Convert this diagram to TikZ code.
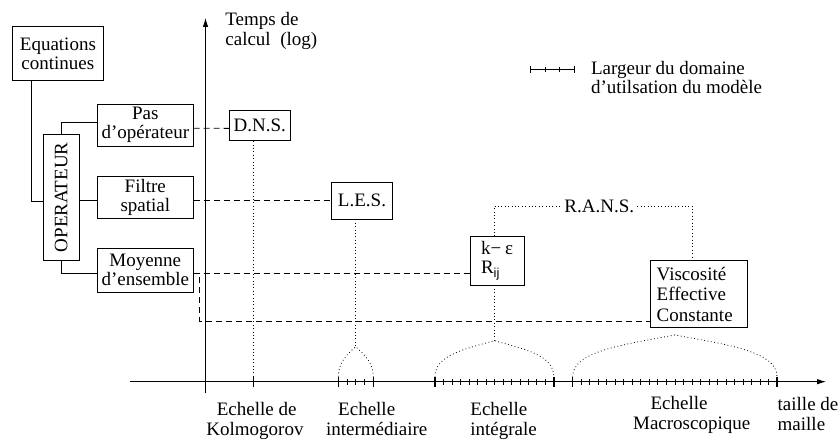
\documentclass[tikz,border=0pt]{standalone}
\usepackage{fontspec}
\setmainfont{Liberation Serif}
\setsansfont{Liberation Sans}
\usetikzlibrary{arrows.meta,calc}
\begin{document}
\begin{tikzpicture}[x=1bp,y=-1bp,
  font=\fontsize{19bp}{19bp}\selectfont,
  line width=0.8bp,
  box/.style={draw, inner sep=0pt, align=center},
  dsh/.style={dash pattern=on 6bp off 4bp},
  dot/.style={dash pattern=on 0.8bp off 2.6bp},
  tickend/.style={line width=1.4bp},
  tickin/.style={line width=0.7bp},
  lab/.style={anchor=base, inner sep=0pt},
  labw/.style={anchor=base west, inner sep=0pt},
  axarrow/.style={-{Latex[length=9bp,width=5.5bp]}}
]
\useasboundingbox (0,0) rectangle (840,440);

% ---- boxes on the left
\node[box, minimum width=90.3bp, minimum height=54.7bp] (eq) at (57.9,53.4) {Equations\\continues};
\node[box, minimum width=35.7bp, minimum height=126.7bp] (op) at (61.2,197.3) {\rotatebox{90}{OPERATEUR}};
\node[box, minimum width=96bp, minimum height=41.7bp] (pas) at (145.3,125.2) {Pas\\d’opérateur};
\node[box, minimum width=96bp, minimum height=42bp] (filtre) at (145.3,197.7) {Filtre\\spatial};
\node[box, minimum width=96bp, minimum height=43.7bp] (moy) at (145.3,270.2) {Moyenne\\d’ensemble};

% ---- model boxes
\node[box, minimum width=60.7bp, minimum height=30.7bp] (dns) at (259.7,125.4) {D.N.S.};
\node[box, minimum width=60.6bp, minimum height=36.7bp] (les) at (362,200.7) {L.E.S.};
\node[draw, align=left, inner xsep=11bp, inner ysep=0pt, text width=32.3bp, minimum height=48.3bp] (ke) at (497.2,260.8)
  {k−\hspace{0.2em}ε\\R\raisebox{-0.4ex}{\sffamily\fontsize{13bp}{13bp}\selectfont ij}};
\node[draw, align=left, inner xsep=6bp, inner ysep=0pt, text width=84.6bp, minimum height=66.6bp,
  font=\fontsize{19bp}{20.5bp}\selectfont] (visco) at (699,294) {Viscosité\\Effective\\Constante};

% ---- axes
\coordinate (xs) at (130,381.7);
\coordinate (xe) at (826,381.7);
\coordinate (ys) at (205.5,393.3);
\coordinate (ye) at (205.5,18);
\draw[axarrow] (xs) -- (xe);
\draw[axarrow] (ys) -- (ye);

\node[labw] (t1) at (225,26) {Temps de};
\node[labw] (t2) at (225,46) {calcul\hspace{0.5em}(log)};

% ---- solid connectors
\coordinate (eqx) at (31.7,0);
\draw (eq.south -| eqx) |- ([yshift=-4.4bp]op.west);
\draw (op.north) |- ([yshift=2.5bp]pas.west);
\draw ([yshift=-3bp]filtre.west) coordinate (f1) -- (f1 -| op.east);
\draw (op.south) |- ([yshift=-3bp]moy.west);

% ---- dashed connectors
\coordinate (vy) at (0,321);
\draw[dsh] ([yshift=-3bp]pas.east) -- ([yshift=-3bp]dns.west);
\draw[dsh] (filtre.east |- les.west) -- (les.west);
\draw[dsh] ([yshift=-3bp]moy.east) coordinate (m1) -- (m1 -| ke.west);
\draw[dsh] (m1) -- ++(6,0) coordinate (m2) |- (visco.west |- vy);

% ---- ticked ranges
\coordinate (kol) at (253.3,381.7);
\coordinate (a1) at (338.3,381.7); \coordinate (a2) at (373.3,381.7);
\coordinate (b1) at (435,381.7);   \coordinate (b2) at (553.8,381.7);
\coordinate (c1) at (572.7,381.7); \coordinate (c2) at (777,381.7);
\draw[tickin] (kol) ++(0,-5) -- ++(0,10);
\foreach \p in {a1,a2,b1,b2,c1,c2} \draw[tickend] (\p) ++(0,-5) -- ++(0,10);
\foreach \i in {1,...,3} \draw[tickin] ($(a1)!\i/4!(a2)$) ++(0,-3) -- ++(0,6);
\foreach \i in {1,...,13} \draw[tickin] ($(b1)!\i/14!(b2)$) ++(0,-3) -- ++(0,6);
\foreach \i in {1,...,23} \draw[tickin] ($(c1)!\i/24!(c2)$) ++(0,-3) -- ++(0,6);

% ---- dotted links and braces
\coordinate (lesapex) at (355.7,346.7);
\coordinate (keapex) at (494.3,340.7);
\coordinate (viapex) at (675,335);
\draw[dot] (kol |- dns.south) -- (kol);
\draw[dot] (lesapex |- les.south) -- (lesapex);
\draw[dot] (a1) ++(0,-5) .. controls (338.3,364) and (345,356) .. (lesapex)
  .. controls (366,356) and (373.3,364) .. ($(a2)+(0,-5)$);
\draw[dot] (keapex |- ke.south) -- (keapex);
\draw[dot] (b1) ++(0,-5) .. controls (435,355) and (465,349) .. (keapex)
  .. controls (524,349) and (553.8,355) .. ($(b2)+(0,-5)$);
\draw[dot] (c1) ++(0,-5) .. controls (572.7,352) and (620,345) .. (viapex)
  .. controls (730,345) and (777,352) .. ($(c2)+(0,-5)$);

% ---- R.A.N.S.
\coordinate (rl) at (494.3,206);
\coordinate (rr) at (692.3,206);
\draw[dot] (rl |- ke.north) -- (rl) -- node[pos=0.53, fill=white, inner sep=1.5bp] (rans) {R.A.N.S.} (rr) -- (rr |- visco.north);

% ---- legend
\coordinate (lg1) at (530.7,69.3);
\coordinate (lg2) at (574,69.3);
\draw[tickin] (lg1) -- (lg2);
\foreach \p in {lg1,lg2} \draw[tickin] (\p) ++(0,-3.5) -- ++(0,7);
\foreach \i in {1,2} \draw[tickin] ($(lg1)!\i/3!(lg2)$) ++(0,-2.5) -- ++(0,5);
\node[labw] (lgt1) at (590.7,74.3) {Largeur du domaine};
\node[labw] (lgt2) at (590.7,94) {d’utilsation du modèle};

% ---- axis labels
\node[lab] (k1) at (256.7,415.5) {Echelle de};
\node[lab] (k2) at (255,435.5) {Kolmogorov};
\node[lab] (i1) at (366.7,415.5) {Echelle};
\node[lab] (i2) at (376.7,435.5) {intermédiaire};
\node[labw] (g1) at (470,415.5) {Echelle};
\node[labw] (g2) at (470,435.5) {intégrale};
\node[lab] (m1l) at (679,409) {Echelle};
\node[lab] (m2l) at (691.7,429) {Macroscopique};
\node[labw] (x1) at (777.3,410) {taille de};
\node[labw] (x2) at (777.3,430) {maille};
\end{tikzpicture}
\end{document}
